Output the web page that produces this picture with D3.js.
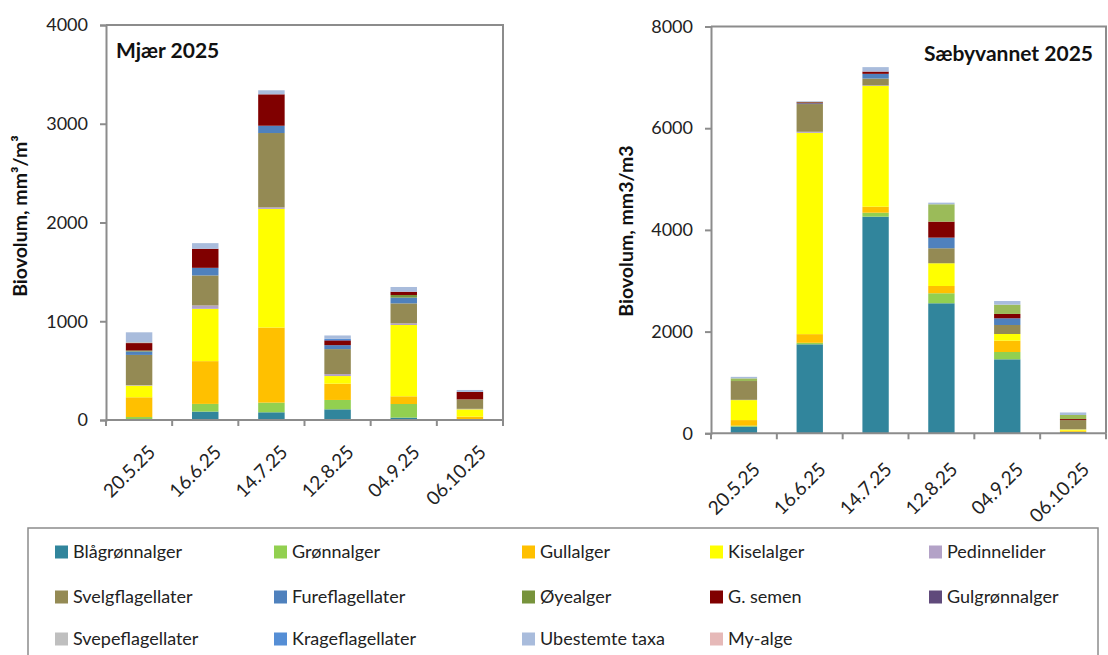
<!DOCTYPE html>
<html>
<head>
<meta charset="utf-8">
<script src="https://cdn.jsdelivr.net/npm/d3@7"></script>
<style>
  html, body { margin: 0; padding: 0; background: #ffffff; }
  svg { display: block; font-family: Lato, "Open Sans", sans-serif; }
</style>
</head>
<body>
<svg id="chart" width="1108" height="655"></svg>
<script>
// ---------------- DATA ----------------
const categories = ["20.5.25", "16.6.25", "14.7.25", "12.8.25", "04.9.25", "06.10.25"];

const seriesNames = [
  "Blågrønnalger", "Grønnalger", "Gullalger", "Kiselalger", "Pedinnelider",
  "Svelgflagellater", "Fureflagellater", "Øyealger", "G. semen", "Gulgrønnalger",
  "Svepeflagellater", "Krageflagellater", "Ubestemte taxa", "My-alge"
];

const seriesColors = [
  "#31859C", "#92D050", "#FFC000", "#FFFF00", "#B3A2C7",
  "#948A54", "#4F81BD", "#77933C", "#800000", "#604A7B",
  "#BFBFBF", "#558ED5", "#A9BCDC", "#E6B9B8"
];

// Mjær 2025 – one array per series (same order as seriesNames), values per date
const mjaerBlagronnalger   = [5, 85, 78, 108, 24, 3];
const mjaerGronnalger      = [25, 78, 98, 95, 138, 5];
const mjaerGullalger       = [200, 433, 760, 165, 78, 26];
const mjaerKiselalger      = [118, 530, 1202, 77, 722, 74];
const mjaerPedinnelider    = [5, 34, 15, 20, 17, 5];
const mjaerSvelg           = [306, 304, 753, 253, 202, 96];
const mjaerFure            = [35, 77, 74, 40, 58, 0];
const mjaerOyealger        = [10, 0, 0, 0, 27, 0];
const mjaerGsemen          = [75, 193, 318, 44, 33, 75];
const mjaerGulgronn        = [0, 0, 0, 8, 0, 0];
const mjaerSvepe           = [10, 0, 0, 0, 0, 0];
const mjaerKrage           = [0, 0, 0, 12, 0, 0];
const mjaerUbestemte       = [99, 57, 41, 34, 48, 20];
const mjaerMyalge          = [0, 0, 0, 0, 0, 0];

// Sæbyvannet 2025
const saebyBlagronnalger   = [130, 1750, 4260, 2557, 1455, 25];
const saebyGronnalger      = [20, 30, 78, 197, 144, 5];
const saebyGullalger       = [110, 170, 118, 143, 223, 20];
const saebyKiselalger      = [393, 3960, 2375, 447, 131, 25];
const saebyPedinnelider    = [5, 20, 10, 0, 0, 5];
const saebySvelg           = [370, 545, 135, 295, 177, 180];
const saebyFure            = [0, 15, 93, 209, 132, 0];
const saebyOyealger        = [52, 8, 0, 341, 183, 80];
const saebyGsemen          = [0, 20, 45, 315, 85, 20];
const saebyGulgronn        = [0, 0, 0, 0, 0, 0];
const saebySvepe           = [0, 0, 0, 0, 0, 0];
const saebyKrage           = [0, 0, 0, 0, 0, 0];
const saebyUbestemte       = [30, 12, 87, 32, 72, 50];
const saebyMyalge          = [0, 0, 0, 0, 0, 0];

const mjaerTicks = [0, 1000, 2000, 3000, 4000];
const saebyTicks = [0, 2000, 4000, 6000, 8000];

// stacking order (indices into seriesNames) for each panel
const mjaerOrder = [0, 1, 2, 3, 4, 5, 6, 7, 8, 9, 10, 11, 12, 13];
const saebyOrder = [0, 1, 2, 3, 4, 5, 6, 8, 7, 9, 10, 11, 12, 13];
// the right panel draws Øyealger in a lighter green
const saebyColorOverride = { 7: "#9BBB59" };

// ---------------- BUILD TABLES ----------------
const mjaerSeries = [mjaerBlagronnalger, mjaerGronnalger, mjaerGullalger, mjaerKiselalger, mjaerPedinnelider,
  mjaerSvelg, mjaerFure, mjaerOyealger, mjaerGsemen, mjaerGulgronn, mjaerSvepe, mjaerKrage, mjaerUbestemte, mjaerMyalge];
const saebySeries = [saebyBlagronnalger, saebyGronnalger, saebyGullalger, saebyKiselalger, saebyPedinnelider,
  saebySvelg, saebyFure, saebyOyealger, saebyGsemen, saebyGulgronn, saebySvepe, saebyKrage, saebyUbestemte, saebyMyalge];

function table(seriesArr) {
  return categories.map((c, i) => {
    const row = { cat: c };
    seriesArr.forEach((arr, s) => { row["s" + s] = arr[i]; });
    return row;
  });
}

const svg = d3.select("#chart");
const AXIS = "#8c8c8c";
const FONT = 18;

function drawPanel(cfg) {
  const g = svg.append("g");
  const x = d3.scaleBand().domain(categories).range([cfg.x0, cfg.x1]).padding(0);
  const y = d3.scaleLinear().domain([0, cfg.max]).range([cfg.yBottom, cfg.yTop]);
  const step = x.bandwidth();

  const stack = d3.stack().keys(cfg.order.map(i => "s" + i));
  const layers = stack(table(cfg.series));

  // plot frame (top & right)
  g.append("path")
    .attr("d", `M${cfg.x0},${cfg.yTop}H${cfg.x1}V${cfg.yBottom}`)
    .attr("fill", "none").attr("stroke", AXIS).attr("stroke-width", 2);

  // bars
  layers.forEach(layer => {
    const idx = +layer.key.slice(1);
    const color = (cfg.colorOverride && cfg.colorOverride[idx]) || seriesColors[idx];
    g.append("g").selectAll("rect")
      .data(layer.filter(d => d[1] - d[0] > 0))
      .join("rect")
      .attr("x", d => x(d.data.cat) + step * 0.3)
      .attr("width", step * 0.4)
      .attr("y", d => y(d[1]))
      .attr("height", d => y(d[0]) - y(d[1]))
      .attr("fill", color);
  });

  // y axis
  const yAxis = d3.axisLeft(y).tickValues(cfg.ticks).tickSize(6).tickPadding(12).tickFormat(d3.format("d"));
  const ya = g.append("g").attr("transform", `translate(${cfg.x0},0)`).call(yAxis);
  ya.select(".domain").attr("stroke", AXIS).attr("stroke-width", 2);
  ya.selectAll(".tick line").attr("stroke", AXIS).attr("stroke-width", 2);
  ya.selectAll(".tick text").attr("font-size", FONT).attr("fill", "#222").attr("font-family", "Lato, sans-serif");

  // x axis: baseline + boundary ticks
  g.append("line").attr("x1", cfg.x0).attr("x2", cfg.x1).attr("y1", cfg.yBottom).attr("y2", cfg.yBottom)
    .attr("stroke", AXIS).attr("stroke-width", 2);
  const bounds = categories.map(c => x(c)).concat([cfg.x1]);
  g.append("g").selectAll("line").data(bounds).join("line")
    .attr("x1", d => d).attr("x2", d => d)
    .attr("y1", cfg.yBottom).attr("y2", cfg.yBottom + 6)
    .attr("stroke", AXIS).attr("stroke-width", 2);

  g.append("g").selectAll("text").data(categories).join("text")
    .attr("transform", c => `translate(${x(c) + step / 2 + 8},${cfg.yBottom + cfg.labelOffset}) rotate(-45)`)
    .attr("text-anchor", "end")
    .attr("dy", "0.7em")
    .attr("font-size", 19)
    .attr("fill", "#222")
    .text(c => c);

  // y title
  g.append("text")
    .attr("transform", `translate(${cfg.yTitleX},${cfg.yTitleY}) rotate(-90)`)
    .attr("text-anchor", "middle")
    .attr("font-size", 19.5).attr("font-weight", "bold").attr("fill", "#111")
    .text(cfg.yTitle);

  // panel title
  g.append("text")
    .attr("x", cfg.titleX).attr("y", cfg.titleY)
    .attr("text-anchor", cfg.titleAnchor)
    .attr("font-size", 21).attr("font-weight", "bold").attr("fill", "#111")
    .text(cfg.title);
}

drawPanel({
  series: mjaerSeries, order: mjaerOrder, ticks: mjaerTicks, max: 4000,
  x0: 106, x1: 503, yTop: 25, yBottom: 420, labelOffset: 24,
  yTitle: "Biovolum, mm³/m³", yTitleX: 27, yTitleY: 216,
  title: "Mjær 2025", titleX: 116, titleY: 58, titleAnchor: "start"
});

drawPanel({
  series: saebySeries, order: saebyOrder, ticks: saebyTicks, max: 8000, colorOverride: saebyColorOverride,
  x0: 711, x1: 1106, yTop: 26.5, yBottom: 433.3, labelOffset: 28,
  yTitle: "Biovolum, mm3/m3", yTitleX: 633, yTitleY: 231,
  title: "Sæbyvannet 2025", titleX: 1093, titleY: 61, titleAnchor: "end"
});

// ---------------- LEGEND ----------------
const legendColX = [55, 274, 522, 710, 929];
const legendRowY = [552, 597, 639];
const lg = svg.append("g");
lg.append("rect").attr("x", 28).attr("y", 528).attr("width", 1070).attr("height", 150)
  .attr("fill", "none").attr("stroke", AXIS).attr("stroke-width", 1.5);
const items = lg.selectAll("g.item").data(seriesNames).join("g")
  .attr("class", "item")
  .attr("transform", (d, i) => `translate(${legendColX[i % 5]},${legendRowY[Math.floor(i / 5)]})`);
items.append("rect").attr("x", 0).attr("y", -6.5).attr("width", 13).attr("height", 13)
  .attr("fill", (d, i) => seriesColors[i]);
items.append("text").attr("x", 18).attr("y", 0).attr("dy", "0.35em")
  .attr("font-size", FONT).attr("fill", "#222").text(d => d);
</script>
</body>
</html>
